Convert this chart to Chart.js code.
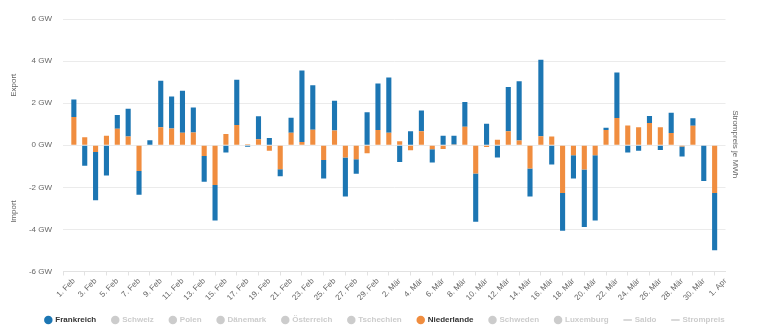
<!DOCTYPE html>
<html>
<head>
<meta charset="utf-8">
<script src="https://cdn.jsdelivr.net/npm/chart.js@4.4.1/dist/chart.umd.min.js"></script>
<style>
  html, body { margin: 0; padding: 0; background: #fff; }
  #wrap { width: 760px; height: 334px; position: relative; }
</style>
</head>
<body>
<div id="wrap"><canvas id="c"></canvas></div>
<script>
// Daily cross-border balance, 1 Feb – 31 Mar 2024 (GW, positive = export)
const days = [
  '1. Feb','2. Feb','3. Feb','4. Feb','5. Feb','6. Feb','7. Feb','8. Feb','9. Feb','10. Feb',
  '11. Feb','12. Feb','13. Feb','14. Feb','15. Feb','16. Feb','17. Feb','18. Feb','19. Feb','20. Feb',
  '21. Feb','22. Feb','23. Feb','24. Feb','25. Feb','26. Feb','27. Feb','28. Feb','29. Feb',
  '1. Mär','2. Mär','3. Mär','4. Mär','5. Mär','6. Mär','7. Mär','8. Mär','9. Mär','10. Mär',
  '11. Mär','12. Mär','13. Mär','14. Mär','15. Mär','16. Mär','17. Mär','18. Mär','19. Mär','20. Mär',
  '21. Mär','22. Mär','23. Mär','24. Mär','25. Mär','26. Mär','27. Mär','28. Mär','29. Mär','30. Mär','31. Mär'
];

// Axis labels, one every second day (the last one is 1 Apr, the end of the range)
const tickLabels = [
  '1. Feb','3. Feb','5. Feb','7. Feb','9. Feb','11. Feb','13. Feb','15. Feb','17. Feb','19. Feb',
  '21. Feb','23. Feb','25. Feb','27. Feb','29. Feb',
  '2. Mär','4. Mär','6. Mär','8. Mär','10. Mär','12. Mär','14. Mär','16. Mär','18. Mär','20. Mär',
  '22. Mär','24. Mär','26. Mär','28. Mär','30. Mär','1. Apr'
];

const yTicks = [-6, -4, -2, 0, 2, 4, 6];

const frankreich = [
  0.84, -0.98, -2.29, -1.44, 0.66, 1.31, -1.13, 0.24, 2.22, 1.52,
  2.00, 1.18, -1.22, -1.69, -0.35, 2.15, -0.07, 1.09, 0.34, -0.33,
  0.72, 3.39, 2.11, -0.88, 1.41, -1.85, -0.69, 1.57, 2.22, 2.63,
  -0.80, 0.66, 0.98, -0.63, 0.45, 0.41, 1.17, -2.29, 1.02, -0.58,
  2.10, 2.82, -1.33, 3.63, -0.91, -1.79, -1.10, -2.74, -3.10, 0.11,
  2.16, -0.35, -0.26, 0.33, -0.22, 0.96, -0.48, 0.35, -1.70, -2.72
];

const niederlande = [
  1.34, 0.38, -0.32, 0.45, 0.78, 0.42, -1.22, 0.00, 0.85, 0.80,
  0.59, 0.61, -0.51, -1.89, 0.54, 0.96, 0.05, 0.29, -0.26, -1.14,
  0.59, 0.16, 0.74, -0.70, 0.70, -0.58, -0.66, -0.38, 0.72, 0.59,
  0.19, -0.24, 0.67, -0.19, -0.18, 0.04, 0.88, -1.34, -0.08, 0.26,
  0.67, 0.22, -1.10, 0.43, 0.42, -2.27, -0.48, -1.15, -0.48, 0.72,
  1.30, 0.94, 0.85, 1.06, 0.86, 0.58, -0.06, 0.93, 0.00, -2.27
];

const FONT = "'Liberation Sans', Arial, Helvetica, sans-serif";
const BLUE = '#1c76b3';
const ORANGE = '#f08d3f';
const OFF = '#cccccc';

const toPoints = arr => arr.map((v, i) => ({ x: i, y: v }));

const bar = (label, data, color, order, hidden) => ({
  type: 'bar', label, data, backgroundColor: color, borderWidth: 0,
  order, hidden, barPercentage: 0.47, categoryPercentage: 1, yAxisID: 'y'
});

// Niederlande sits next to the zero line, Frankreich is stacked on top of it
const datasets = [
  bar('Frankreich', toPoints(frankreich), BLUE, 1, false),
  bar('Schweiz', [], OFF, 2, true),
  bar('Polen', [], OFF, 2, true),
  bar('Dänemark', [], OFF, 2, true),
  bar('Österreich', [], OFF, 2, true),
  bar('Tschechien', [], OFF, 2, true),
  bar('Niederlande', toPoints(niederlande), ORANGE, 0, false),
  bar('Schweden', [], OFF, 2, true),
  bar('Luxemburg', [], OFF, 2, true),
  { type: 'line', label: 'Saldo', data: [], borderColor: '#333', hidden: true, yAxisID: 'y', order: 3 },
  { type: 'line', label: 'Strompreis', data: [], borderColor: '#555', hidden: true, yAxisID: 'y2', order: 3 }
];

// Rotated side captions: Export / Import on the left, price caption on the right
const sideTitles = {
  id: 'sideTitles',
  afterDraw(chart) {
    const { ctx } = chart;
    const y = chart.scales.y;
    ctx.save();
    ctx.font = '8px ' + FONT;
    ctx.fillStyle = '#666';
    ctx.textAlign = 'center';
    ctx.textBaseline = 'middle';
    const put = (text, x, yy, rot) => {
      ctx.save();
      ctx.translate(x, yy);
      ctx.rotate(rot);
      ctx.fillText(text, 0, 0);
      ctx.restore();
    };
    put('Export', 13.5, y.getPixelForValue(2.85), -Math.PI / 2);
    put('Import', 13.5, y.getPixelForValue(-3.15), -Math.PI / 2);
    put('Strompreis je MWh', 735, y.getPixelForValue(0.05), Math.PI / 2);
    ctx.restore();
  }
};

new Chart(document.getElementById('c'), {
  data: { datasets },
  plugins: [sideTitles],
  options: {
    responsive: true,
    maintainAspectRatio: false,
    animation: false,
    layout: { padding: { top: 19, bottom: 0, left: 10, right: 0 } },
    plugins: {
      tooltip: { enabled: false },
      legend: {
        position: 'bottom',
        onClick: null,
        labels: {
          usePointStyle: true,
          boxWidth: 6,
          boxHeight: 6,
          padding: 16,
          font: { size: 8, weight: 'bold', family: FONT },
          generateLabels(chart) {
            return chart.data.datasets.map((ds, i) => {
              const on = !ds.hidden;
              const isLine = ds.type === 'line';
              return {
                text: ds.label,
                datasetIndex: i,
                hidden: false,
                pointStyle: isLine ? 'line' : 'circle',
                fillStyle: on ? ds.backgroundColor : OFF,
                strokeStyle: on ? (ds.borderColor || ds.backgroundColor) : OFF,
                lineWidth: isLine ? 1.5 : 0,
                fontColor: on ? '#333' : OFF
              };
            });
          }
        }
      }
    },
    scales: {
      x: {
        type: 'linear',
        min: -1,
        max: 60,
        offset: false,
        stacked: true,
        afterBuildTicks(scale) {
          scale.ticks = tickLabels.map((t, i) => ({ value: i * 2 }));
        },
        afterFit(scale) { scale.height = 28.5; },
        grid: { drawOnChartArea: false, drawTicks: true, tickLength: 4, color: '#e2e2e2' },
        border: { display: true, color: '#e2e2e2' },
        ticks: {
          autoSkip: false,
          minRotation: 45,
          maxRotation: 45,
          padding: 1,
          color: '#666',
          font: { size: 8, family: FONT },
          callback: v => tickLabels[v / 2]
        }
      },
      y: {
        type: 'linear',
        position: 'left',
        stacked: true,
        min: -6,
        max: 6,
        afterBuildTicks(scale) {
          scale.ticks = yTicks.map(v => ({ value: v }));
        },
        afterFit(scale) { scale.width = 53; },
        grid: { color: '#ebebeb', drawTicks: false },
        border: { display: false },
        ticks: {
          padding: 11,
          color: '#666',
          font: { size: 8, family: FONT },
          callback: v => v + ' GW'
        }
      },
      y2: {
        type: 'linear',
        position: 'right',
        afterFit(scale) { scale.width = 34.5; },
        grid: { display: false },
        border: { display: false },
        ticks: { display: false }
      }
    }
  }
});
</script>
</body>
</html>
